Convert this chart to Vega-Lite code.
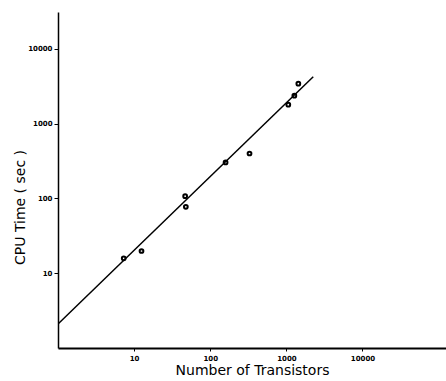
{
  "$schema": "https://vega.github.io/schema/vega-lite/v6.json",
  "width": 388,
  "height": 336,
  "autosize": "none",
  "padding": {"left": 58, "top": 12, "right": 0, "bottom": 33},
  "background": "white",
  "config": {"view": {"stroke": null}},
  "datasets": {
    "pts": [
      {"n": 7.3, "t": 15.8},
      {"n": 12.5, "t": 19.8},
      {"n": 46.8, "t": 107},
      {"n": 47.8, "t": 77},
      {"n": 159, "t": 302},
      {"n": 328, "t": 398},
      {"n": 1060, "t": 1791},
      {"n": 1273, "t": 2362},
      {"n": 1436, "t": 3412}
    ],
    "fit": [
      {"n": 1, "t": 2.09},
      {"n": 2254, "t": 4235}
    ]
  },
  "layer": [
    {
      "data": {"name": "fit"},
      "mark": {"type": "line", "color": "black", "strokeWidth": 1.5, "clip": true},
      "encoding": {
        "x": {
          "field": "n", "type": "quantitative",
          "scale": {"type": "log", "domain": [1, 125000], "nice": false},
          "axis": {
            "title": "Number of Transistors",
            "values": [10, 100, 1000, 10000],
            "format": ".0f",
            "grid": false,
            "domainColor": "black", "domainWidth": 2,
            "tickColor": "black", "tickSize": 3, "tickWidth": 1,
            "labelFont": "DejaVu Sans", "labelFontWeight": "bold", "labelFontSize": 7, "labelColor": "black", "labelPadding": 3,
            "titleFont": "DejaVu Sans", "titleFontSize": 14, "titleFontWeight": "normal", "titleColor": "black", "titlePadding": 2
          }
        },
        "y": {
          "field": "t", "type": "quantitative",
          "scale": {"type": "log", "domain": [1, 31000], "nice": false},
          "axis": {
            "title": "CPU Time ( sec )",
            "values": [10, 100, 1000, 10000],
            "format": ".0f",
            "grid": false,
            "domainColor": "black", "domainWidth": 1.5,
            "tickColor": "black", "tickSize": 4, "tickWidth": 1,
            "labelFont": "DejaVu Sans", "labelFontWeight": "bold", "labelFontSize": 7, "labelColor": "black", "labelPadding": 2,
            "titleFont": "DejaVu Sans", "titleFontSize": 14, "titleFontWeight": "normal", "titleColor": "black",
            "titleX": -31, "titleY": 195
          }
        }
      }
    },
    {
      "data": {"name": "pts"},
      "mark": {"type": "point", "shape": "circle", "filled": false, "color": "black", "strokeWidth": 2, "size": 14, "opacity": 1},
      "encoding": {
        "x": {"field": "n", "type": "quantitative"},
        "y": {"field": "t", "type": "quantitative"}
      }
    }
  ]
}
